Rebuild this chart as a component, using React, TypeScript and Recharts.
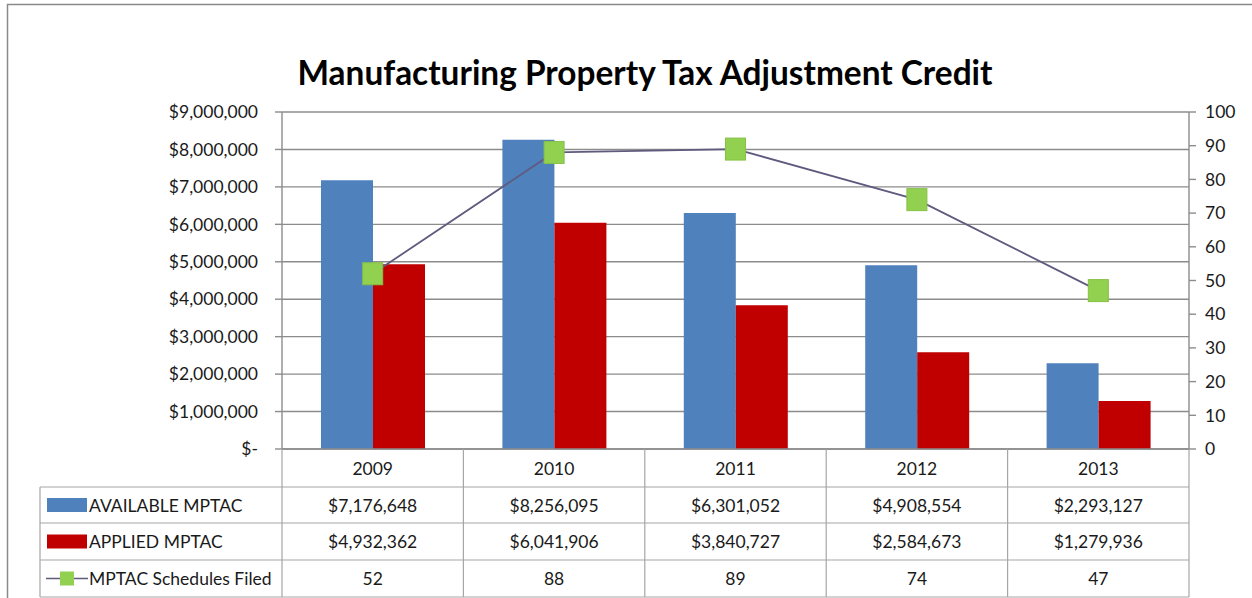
import { ComposedChart, Bar, Line, XAxis, YAxis, CartesianGrid } from 'recharts';

const categories = ['2009', '2010', '2011', '2012', '2013'];
const available = [7176648, 8256095, 6301052, 4908554, 2293127];
const applied = [4932362, 6041906, 3840727, 2584673, 1279936];
const filed = [52, 88, 89, 74, 47];
const moneyTicks = [0, 1000000, 2000000, 3000000, 4000000, 5000000, 6000000, 7000000, 8000000, 9000000];
const countTicks = [0, 10, 20, 30, 40, 50, 60, 70, 80, 90, 100];

const data = categories.map((year, i) => ({
  year,
  available: available[i],
  applied: applied[i],
  filed: filed[i],
}));

const W = 1252;
const H = 598;
const plotLeft = 282;
const plotRight = 1189;
const plotTop = 112;
const plotBottom = 449;
const font = 'Lato, "Open Sans", sans-serif';
const textColor = '#1a1a1a';
const gridColor = '#8c8c8c';
const tableColor = '#a6a6a6';
const fs = 17.5;

const money = (v: number) => (v === 0 ? '$-' : '$' + v.toLocaleString('en-US'));

const SquareDot = (props: any) => {
  const { cx, cy } = props;
  if (cx == null || cy == null) return null;
  return <rect x={cx - 10} y={cy - 11} width={20} height={22} fill="#92D050" stroke="#86c046" strokeWidth={1} />;
};

const YearTick = (props: any) => {
  const { x, payload } = props;
  return (
    <text x={x} y={468} textAnchor="middle" dominantBaseline="central" fontFamily={font} fontSize={fs} fill={textColor}>
      {payload.value}
    </text>
  );
};

function DataTable() {
  const colW = (plotRight - plotLeft) / categories.length;
  const rowTops = [487, 523, 560, 597];
  const tableLeft = 40;
  const rows = [
    { label: 'AVAILABLE MPTAC', values: available.map(money), key: 'bar', color: '#4F81BD' },
    { label: 'APPLIED MPTAC', values: applied.map(money), key: 'bar', color: '#C00000' },
    { label: 'MPTAC Schedules Filed', values: filed.map(String), key: 'line', color: '#92D050' },
  ];
  return (
    <svg width={W} height={H} style={{ position: 'absolute', left: 0, top: 0, pointerEvents: 'none' }}>
      {categories.map((_, i) => (
        <line key={'hv' + i} x1={plotLeft + colW * i} x2={plotLeft + colW * i} y1={plotBottom} y2={rowTops[3]} stroke={tableColor} strokeWidth={1.2} />
      ))}
      <line x1={plotRight} x2={plotRight} y1={plotBottom} y2={rowTops[3]} stroke={tableColor} strokeWidth={1.2} />
      <line x1={tableLeft} x2={tableLeft} y1={rowTops[0]} y2={rowTops[3]} stroke={tableColor} strokeWidth={1.2} />
      {rowTops.map((y, i) => (
        <line key={'hr' + i} x1={tableLeft} x2={plotRight} y1={y} y2={y} stroke={tableColor} strokeWidth={1.2} />
      ))}
      {rows.map((r, ri) => {
        const yc = (rowTops[ri] + rowTops[ri + 1]) / 2;
        return (
          <g key={r.label}>
            {r.key === 'bar' ? (
              <rect x={47} y={yc - 7} width={40} height={14} fill={r.color} />
            ) : (
              <g>
                <line x1={46} x2={88} y1={yc} y2={yc} stroke="#5f5a7e" strokeWidth={1.5} />
                <rect x={60} y={yc - 7} width={14} height={14} fill={r.color} />
              </g>
            )}
            <text x={89} y={yc} dominantBaseline="central" fontFamily={font} fontSize={fs} fill={textColor}>
              {r.label}
            </text>
            {r.values.map((v, ci) => (
              <text key={ci} x={plotLeft + colW * (ci + 0.5)} y={yc} textAnchor="middle" dominantBaseline="central" fontFamily={font} fontSize={fs} fill={textColor}>
                {v}
              </text>
            ))}
          </g>
        );
      })}
    </svg>
  );
}

export default function App() {
  const leftAxisW = 120;
  const rightAxisW = 50;
  const xAxisH = 38;
  return (
    <div style={{ position: 'absolute', left: 0, top: 0, width: W, height: H, background: '#fff' }}>
      <svg width={W} height={H} style={{ position: 'absolute', left: 0, top: 0 }}>
        <line x1={7} x2={W} y1={4.5} y2={4.5} stroke="#8a8a8a" strokeWidth={1.5} />
        <line x1={7.5} x2={7.5} y1={4} y2={H} stroke="#8a8a8a" strokeWidth={1.5} />
        <text x={645} y={85} textAnchor="middle" fontFamily={font} fontWeight={700} fontSize={35} fill="#000" textLength={695} lengthAdjust="spacingAndGlyphs">
          Manufacturing Property Tax Adjustment Credit
        </text>
      </svg>
      <div style={{ position: 'absolute', left: 0, top: 0 }}>
        <ComposedChart
          width={W}
          height={H}
          data={data}
          margin={{ top: plotTop, bottom: H - plotBottom - xAxisH, left: plotLeft - leftAxisW, right: W - plotRight - rightAxisW }}
          barGap={0}
          barCategoryGap="21%"
        >
          <CartesianGrid yAxisId="left" vertical={false} stroke={gridColor} strokeWidth={1.4} />
          <XAxis dataKey="year" height={xAxisH} tickLine={false} axisLine={{ stroke: gridColor, strokeWidth: 1.4 }} tick={<YearTick />} interval={0} />
          <YAxis
            yAxisId="left"
            width={leftAxisW}
            domain={[0, 9000000]}
            ticks={moneyTicks}
            tickFormatter={money}
            tickSize={7}
            tickMargin={17}
            axisLine={{ stroke: gridColor, strokeWidth: 1.4 }}
            tickLine={{ stroke: gridColor, strokeWidth: 1.4 }}
            tick={{ fontFamily: font, fontSize: fs, fill: textColor }}
          />
          <YAxis
            yAxisId="right"
            orientation="right"
            width={rightAxisW}
            domain={[0, 100]}
            ticks={countTicks}
            tickSize={7}
            tickMargin={9}
            axisLine={{ stroke: gridColor, strokeWidth: 1.4 }}
            tickLine={{ stroke: gridColor, strokeWidth: 1.4 }}
            tick={{ fontFamily: font, fontSize: fs, fill: textColor }}
          />
          <Bar yAxisId="left" dataKey="available" fill="#4F81BD" barSize={52} isAnimationActive={false} />
          <Bar yAxisId="left" dataKey="applied" fill="#C00000" barSize={52} isAnimationActive={false} />
          <Line
            yAxisId="right"
            dataKey="filed"
            stroke="#5f5a7e"
            strokeWidth={1.8}
            dot={<SquareDot />}
            activeDot={false}
            isAnimationActive={false}
          />
        </ComposedChart>
      </div>
      <DataTable />
    </div>
  );
}
